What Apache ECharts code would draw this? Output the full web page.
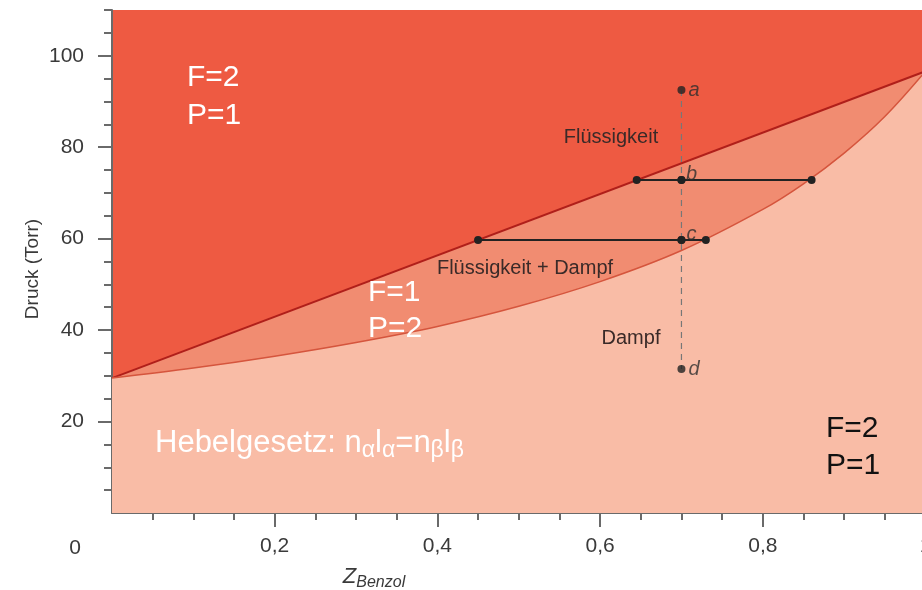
<!DOCTYPE html>
<html>
<head>
<meta charset="utf-8">
<script src="https://cdn.jsdelivr.net/npm/echarts@6/dist/echarts.min.js"></script>
<style>
  html, body { margin: 0; padding: 0; background: #ffffff; overflow: hidden; width: 922px; height: 590px; }
  /* the drawing runs a few pixels past the right edge, so the x = 1 end sits just outside */
  #chart { width: 926px; height: 590px; }
</style>
</head>
<body>
<div id="chart"></div>
<script>
// Benzol mole fraction and pressure (Torr) along the liquid (bubble) line
const liquidZ = [0, 1];
const liquidP = [29.5, 96.6];

// Dew (vapour) curve, read point by point
const dewZ = [0, 0.1, 0.2, 0.3, 0.4, 0.5, 0.6, 0.7, 0.8, 0.85, 0.9, 0.95, 1];
const dewP = [29.5, 31.7, 34.3, 37.3, 40.8, 45.2, 50.6, 57.4, 66.4, 72.0, 78.7, 86.7, 96.6];

// Isopleth at z = 0.7 with the states a, b, c, d
const stateNames = ['a', 'b', 'c', 'd'];
const stateZ = [0.7, 0.7, 0.7, 0.7];
const stateP = [92.5, 72.8, 59.7, 31.5];

// Tie lines (Konnoden) through b and c: liquid end, state, vapour end
const tieBZ = [0.645, 0.7, 0.86];
const tieBP = [72.8, 72.8, 72.8];
const tieCZ = [0.45, 0.7, 0.73];
const tieCP = [59.7, 59.7, 59.7];

// Axis ticks
const yMajorTicks = [20, 40, 60, 80, 100];
const yLabels = [20, 40, 60, 80, 100];
const yMinorTicks = [5, 10, 15, 25, 30, 35, 45, 50, 55, 65, 70, 75, 85, 90, 95, 105, 110];
const xMajorTicks = [0.2, 0.4, 0.6, 0.8, 1];
const xLabels = [0.2, 0.4, 0.6, 0.8, 1];
const xMinorTicks = [0.05, 0.1, 0.15, 0.25, 0.3, 0.35, 0.45, 0.5, 0.55, 0.65, 0.7, 0.75, 0.85, 0.9, 0.95];

const pairs = (xs, ys) => xs.map((x, i) => [x, ys[i]]);

const FONT = '"Liberation Sans", Arial, sans-serif';
const RED = '#EE5A42';
const MID = '#F18C71';
const LIGHT = '#F9BCA6';
const AXIS = '#6a6a6a';
const TXT = '#3a3a3a';

const chart = echarts.init(document.getElementById('chart'), null, { renderer: 'canvas' });

const grid = {
  left: 112, right: 0.5, top: 10, bottom: 77,
  show: true, backgroundColor: RED, borderWidth: 0,
  containLabel: false, outerBoundsMode: 'none'
};

const baseX = { type: 'value', min: 0, max: 1, gridIndex: 0, position: 'bottom', splitLine: { show: false } };
const baseY = { type: 'value', min: 0, max: 110, gridIndex: 0, position: 'left', splitLine: { show: false } };

const option = {
  animation: false,
  textStyle: { fontFamily: FONT },
  grid: grid,
  xAxis: [
    Object.assign({}, baseX, {
      axisLine: { show: true, lineStyle: { color: AXIS, width: 2 } },
      axisTick: { show: true, customValues: xMajorTicks, length: 14, lineStyle: { color: AXIS, width: 2 } },
      axisLabel: {
        show: true, customValues: xLabels, margin: 23, color: TXT, fontSize: 21, fontFamily: FONT,
        hideOverlap: false,
        formatter: v => String(v).replace('.', ',')
      }
    }),
    Object.assign({}, baseX, {
      axisLine: { show: false },
      axisTick: { show: true, customValues: xMinorTicks, length: 7, lineStyle: { color: AXIS, width: 2 } },
      axisLabel: { show: false }
    })
  ],
  yAxis: [
    Object.assign({}, baseY, {
      axisLine: { show: true, lineStyle: { color: AXIS, width: 2 } },
      axisTick: { show: true, customValues: yMajorTicks, length: 14, lineStyle: { color: AXIS, width: 2 } },
      axisLabel: { show: true, customValues: yLabels, margin: 28, color: TXT, fontSize: 21, fontFamily: FONT }
    }),
    Object.assign({}, baseY, {
      axisLine: { show: false },
      axisTick: { show: true, customValues: yMinorTicks, length: 8, lineStyle: { color: AXIS, width: 2 } },
      axisLabel: { show: false }
    })
  ],
  series: [
    {
      name: 'Flüssigkeitslinie',
      type: 'line',
      data: pairs(liquidZ, liquidP),
      symbol: 'none',
      lineStyle: { color: '#B01F1A', width: 2 },
      areaStyle: { color: MID, opacity: 1, origin: 'start' },
      z: 2
    },
    {
      name: 'Taulinie',
      type: 'line',
      data: pairs(dewZ, dewP),
      smooth: 0.35,
      symbol: 'none',
      lineStyle: { color: '#D5553D', width: 1.5 },
      areaStyle: { color: LIGHT, opacity: 1, origin: 'start' },
      z: 3
    },
    {
      name: 'Isoplethe',
      type: 'line',
      data: pairs([stateZ[0], stateZ[3]], [stateP[0], stateP[3]]),
      symbol: 'none',
      lineStyle: { color: '#777777', width: 1.2, type: [6, 5] },
      z: 4
    },
    {
      name: 'Konnode b',
      type: 'line',
      data: pairs(tieBZ, tieBP),
      symbol: 'circle',
      symbolSize: 8,
      showAllSymbol: true,
      itemStyle: { color: '#222222' },
      lineStyle: { color: '#222222', width: 2 },
      z: 5
    },
    {
      name: 'Konnode c',
      type: 'line',
      data: pairs(tieCZ, tieCP),
      symbol: 'circle',
      symbolSize: 8,
      showAllSymbol: true,
      itemStyle: { color: '#222222' },
      lineStyle: { color: '#222222', width: 2 },
      z: 5
    },
    {
      name: 'Zustände',
      type: 'scatter',
      symbol: 'circle',
      symbolSize: 8,
      itemStyle: { color: '#222222' },
      data: stateNames.map((n, i) => {
        const upper = (n === 'b' || n === 'c');
        return {
          name: n,
          value: [stateZ[i], stateP[i]],
          label: {
            show: true,
            formatter: '{b}',
            position: upper ? 'top' : 'right',
            offset: upper ? [10, 8] : [0, 0],
            distance: upper ? 0 : 3,
            fontStyle: 'italic',
            fontSize: 20,
            color: '#2e2e2e',
            fontFamily: FONT
          }
        };
      }),
      z: 6
    }
  ],
  graphic: [
    { type: 'text', x: 611, y: 137, style: { text: 'Flüssigkeit', font: '20px ' + FONT, fill: '#3a2a28', align: 'center', verticalAlign: 'middle' }, z: 10 },
    { type: 'text', x: 525, y: 268, style: { text: 'Flüssigkeit + Dampf', font: '20px ' + FONT, fill: '#3a2a28', align: 'center', verticalAlign: 'middle' }, z: 10 },
    { type: 'text', x: 631, y: 338, style: { text: 'Dampf', font: '20px ' + FONT, fill: '#3a2a28', align: 'center', verticalAlign: 'middle' }, z: 10 },

    { type: 'text', x: 187, y: 97, style: { text: 'F=2\nP=1', font: '30px ' + FONT, lineHeight: 38, fill: '#ffffff', align: 'left', verticalAlign: 'middle' }, z: 10 },
    { type: 'text', x: 368, y: 311, style: { text: 'F=1\nP=2', font: '30px ' + FONT, lineHeight: 36, fill: '#ffffff', align: 'left', verticalAlign: 'middle' }, z: 10 },
    { type: 'text', x: 826, y: 447, style: { text: 'F=2\nP=1', font: '30px ' + FONT, lineHeight: 37, fill: '#111111', align: 'left', verticalAlign: 'middle' }, z: 10 },
    {
      type: 'text', x: 155, y: 443, z: 10,
      style: {
        text: 'Hebelgesetz: n{s|α}l{s|α}=n{s|β}l{s|β}',
        font: '31px ' + FONT, fill: '#ffffff', align: 'left', verticalAlign: 'middle',
        rich: { s: { fontSize: 23, fill: '#ffffff', fontFamily: FONT, padding: [16, 0, 0, 0] } }
      }
    },

    { type: 'text', x: 33, y: 269, rotation: Math.PI / 2, style: { text: 'Druck (Torr)', font: '19px ' + FONT, fill: TXT, align: 'center', verticalAlign: 'middle' }, z: 10 },
    { type: 'text', x: 75, y: 548, style: { text: '0', font: '21px ' + FONT, fill: TXT, align: 'center', verticalAlign: 'middle' }, z: 10 },
    {
      type: 'text', x: 374, y: 577, z: 10,
      style: {
        text: 'Z{s|Benzol}',
        font: 'italic 22px ' + FONT, fill: TXT, align: 'center', verticalAlign: 'middle',
        rich: { s: { fontSize: 16, fontStyle: 'italic', fill: TXT, fontFamily: FONT, padding: [11, 0, 0, 0] } }
      }
    }
  ]
};

chart.setOption(option);
</script>
</body>
</html>
